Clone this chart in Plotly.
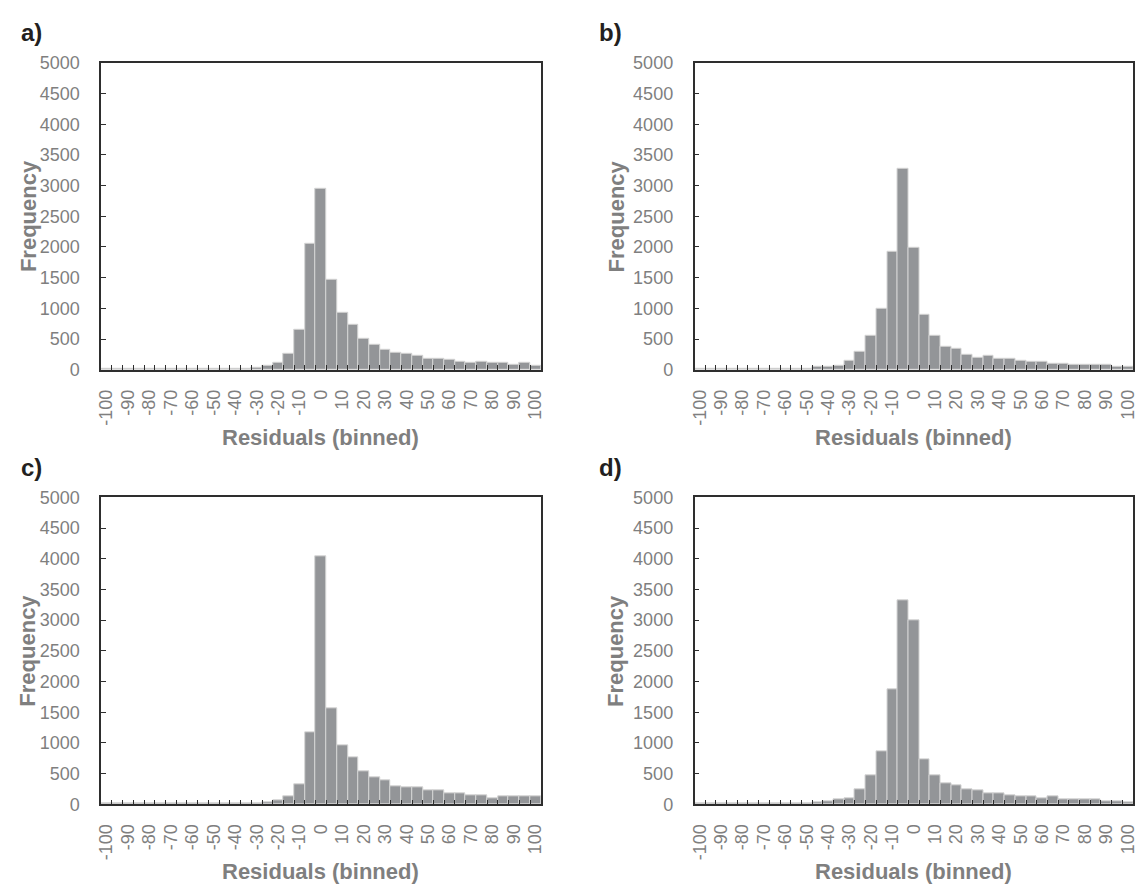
import plotly.graph_objects as go

# Bin labels (residual bins, step 5)
bins = [str(v) for v in range(-100, 101, 5)]
tick_text = [b if i % 2 == 0 else "" for i, b in enumerate(bins)]

freq_a = [15, 12, 10, 12, 10, 10, 12, 10, 12, 15, 15, 15, 18, 22,
          37, 67, 110, 255, 655, 2060, 2940, 1465, 925, 730, 510, 405,
          332, 282, 262, 230, 182, 182, 157, 133, 112, 133, 112, 112, 87, 112, 60]
freq_b = [8, 8, 8, 8, 8, 8, 8, 8, 8, 10, 20, 50, 50, 70,
          145, 298, 548, 992, 1920, 3272, 1992, 888, 548, 378, 348, 250,
          200, 228, 175, 172, 148, 125, 125, 102, 102, 78, 78, 78, 78, 55, 55]
freq_c = [12, 10, 10, 18, 12, 10, 18, 20, 12, 10, 14, 15, 18, 20,
          22, 28, 60, 130, 325, 1180, 4040, 1565, 955, 760, 545, 445,
          395, 295, 272, 272, 222, 222, 172, 172, 148, 148, 100, 125, 125, 125, 125]
freq_d = [8, 8, 8, 8, 8, 8, 8, 8, 8, 8, 12, 28, 52, 78,
          105, 252, 470, 865, 1870, 3315, 2995, 740, 472, 345, 302, 250,
          222, 176, 176, 150, 128, 128, 102, 128, 80, 80, 80, 80, 55, 55, 28]

panel_labels = ["a)", "b)", "c)", "d)"]
series = [freq_a, freq_b, freq_c, freq_d]

W, H = 1141, 894
FONT = "Arial, Liberation Sans, sans-serif"
GRAY = "#7f7f7f"
AXC = "#2e2e2e"
BAR = "#939598"

# pixel boxes of plot areas (left, right, top, bottom)
boxes = [
    (97, 540, 54, 368),
    (695, 1137, 54, 368),
    (97, 540, 498.5, 812.5),
    (695, 1137, 498.5, 812.5),
]
# positions of panel letter (left x) and y-title centre x
letter_x = [14, 597, 14, 597]
ytitle_x = [23, 616, 23, 616]

fig = go.Figure()
for k, vals in enumerate(series):
    sfx = "" if k == 0 else str(k + 1)
    fig.add_trace(go.Bar(
        x=bins, y=vals, xaxis="x" + sfx, yaxis="y" + sfx,
        marker=dict(color=BAR, line=dict(color="#d4d4d4", width=1)),
        showlegend=False, hoverinfo="x+y",
    ))

layout = dict(
    width=W, height=H,
    margin=dict(l=0, r=0, t=0, b=0),
    paper_bgcolor="white", plot_bgcolor="white",
    bargap=0,
    font=dict(family=FONT, color=GRAY, size=18),
    annotations=[],
)

for k, box in enumerate(boxes):
    l, r, t, b = box
    sfx = "" if k == 0 else str(k + 1)
    layout["xaxis" + sfx] = dict(
        domain=[l / W, r / W], anchor="y" + sfx, type="category",
        categoryorder="array", categoryarray=bins,
        range=[-0.5, len(bins) - 0.5],
        tickmode="array", tickvals=bins, ticktext=tick_text,
        tickson="boundaries", ticks="inside", ticklen=5, tickwidth=1.2, tickcolor=AXC,
        tickangle=-90, tickfont=dict(size=18, color=GRAY, family=FONT),
        showline=True, linecolor=AXC, linewidth=1.5, mirror=True,
        showgrid=False, zeroline=False, ticklabelstandoff=11,
    )
    layout["yaxis" + sfx] = dict(
        domain=[1 - b / H, 1 - t / H], anchor="x" + sfx, range=[0, 5000],
        dtick=500, tick0=0,
        ticks="inside", ticklen=5, tickwidth=1.2, tickcolor=AXC,
        tickfont=dict(size=18, color=GRAY, family=FONT),
        showline=True, linecolor=AXC, linewidth=1.5, mirror=True,
        showgrid=False, zeroline=False, ticklabelstandoff=16,
    )
    cx = (l + r) / 2
    layout["annotations"].append(dict(
        text=f"<b>{panel_labels[k]}</b>", xref="paper", yref="paper",
        x=letter_x[k] / W, y=1 - (t - 31) / H, xanchor="left", yanchor="middle",
        showarrow=False, font=dict(size=24, color="#231f20", family=FONT),
    ))
    layout["annotations"].append(dict(
        text="<b>Frequency</b>", xref="paper", yref="paper",
        x=ytitle_x[k] / W, y=1 - ((t + b) / 2) / H, xanchor="center", yanchor="middle",
        textangle=-90, showarrow=False, font=dict(size=22, color=GRAY, family=FONT),
    ))
    layout["annotations"].append(dict(
        text="<b>Residuals (binned)</b>", xref="paper", yref="paper",
        x=cx / W, y=1 - (b + 69) / H, xanchor="center", yanchor="middle",
        showarrow=False, font=dict(size=22, color=GRAY, family=FONT),
    ))

fig.update_layout(**layout)
fig.write_html("out.html")
